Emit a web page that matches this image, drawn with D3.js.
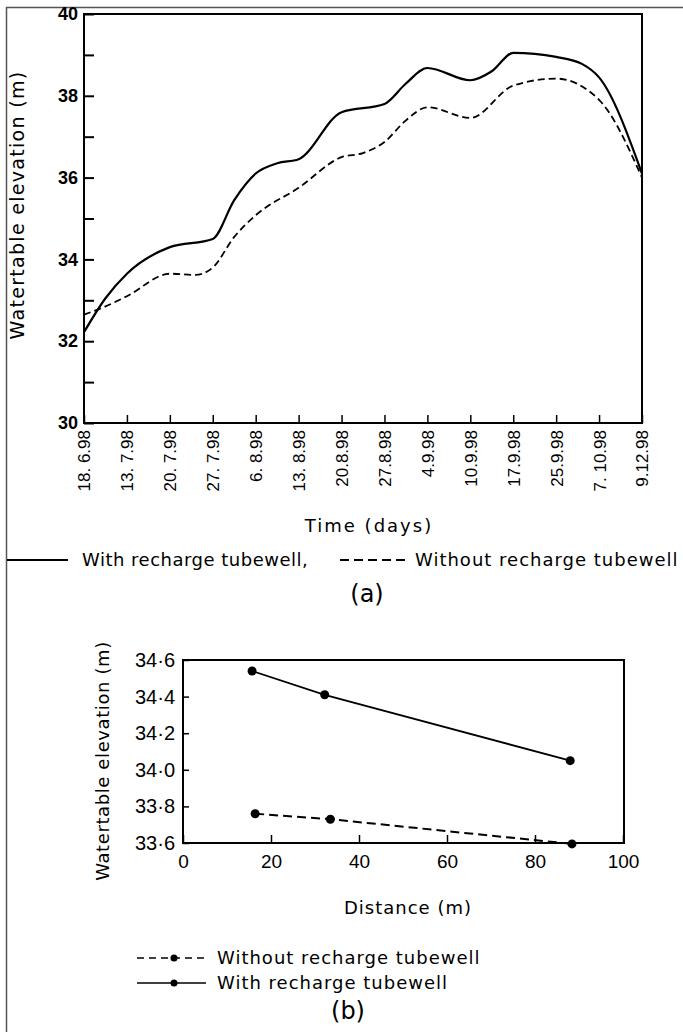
<!DOCTYPE html>
<html>
<head>
<meta charset="utf-8">
<script src="https://cdn.jsdelivr.net/npm/d3@7"></script>
<style>
  body { margin: 0; background: #fff; }
  svg { display: block; font-family: "DejaVu Sans", sans-serif; }
</style>
</head>
<body>
<svg id="chart" width="683" height="1032"></svg>
<script>
// (a) time series - x is position along the date axis (tick index)
const dateLabels = ["18. 6.98", "13. 7.98", "20. 7.98", "27. 7.98", "6. 8.98", "13. 8.98", "20.8.98",
  "27.8.98", "4.9.98", "10.9.98", "17.9.98", "25.9.98", "7. 10.98", "9.12.98"];
const withPos  = [0, 0.5, 1, 2, 3, 3.5, 4, 4.5, 5, 6, 7, 7.5, 8, 9, 9.5, 10, 11, 11.6, 12, 13];
const withVals = [32.22, 33.05, 33.65, 34.3, 34.5, 35.45, 36.1, 36.35, 36.45, 37.6, 37.8, 38.3, 38.68, 38.38, 38.6, 39.05, 38.95, 38.78, 38.45, 36.1];
const withoutPos  = [0, 0.5, 1, 2, 2.6, 3, 3.5, 4, 5, 6, 6.5, 7, 7.5, 8, 9, 10, 11, 12, 13];
const withoutVals = [32.65, 32.85, 33.1, 33.65, 33.62, 33.8, 34.55, 35.08, 35.75, 36.5, 36.6, 36.87, 37.4, 37.72, 37.46, 38.25, 38.42, 37.9, 36.0];
const yTicksA = d3.range(30, 41, 1);

// (b) distance profile
const distWith = [15.7, 32.2, 88];
const elevWith = [34.54, 34.41, 34.05];
const distWithout = [16.4, 33.5, 88.4];
const elevWithout = [33.76, 33.73, 33.595];
const xTicksB = [0, 20, 40, 60, 80, 100];
const yTicksB = [33.6, 33.8, 34.0, 34.2, 34.4, 34.6];

const svg = d3.select("svg#chart");

// outer border (page frame)
svg.append("line").attr("x1", 6.5).attr("x2", 6.5).attr("y1", 7).attr("y2", 1032)
  .attr("stroke", "#555").attr("stroke-width", 1.5);
svg.append("line").attr("x1", 6).attr("x2", 683).attr("y1", 7.5).attr("y2", 7.5)
  .attr("stroke", "#555").attr("stroke-width", 1.5);

// ---------- chart (a) ----------
const xA = d3.scaleLinear().domain([0, 13]).range([84, 642]);
const yA = d3.scaleLinear().domain([30, 40]).range([423, 14]);

const gA = svg.append("g");
gA.append("rect").attr("x", 84).attr("y", 14).attr("width", 642 - 84).attr("height", 423 - 14)
  .attr("fill", "none").attr("stroke", "#000").attr("stroke-width", 2);

const axisLeftA = gA.append("g").attr("transform", "translate(84,0)")
  .call(d3.axisLeft(yA).tickValues(yTicksA).tickSize(-10).tickPadding(6)
    .tickFormat(d => d % 2 === 0 ? d : ""));
axisLeftA.select(".domain").remove();
axisLeftA.selectAll("line").attr("stroke-width", 2);
axisLeftA.selectAll("text").attr("font-size", 18).attr("font-weight", "bold").attr("fill", "#000");

const axisBottomA = gA.append("g").attr("transform", "translate(0,423)")
  .call(d3.axisBottom(xA).tickValues(d3.range(dateLabels.length)).tickSize(-8)
    .tickFormat(i => dateLabels[i]));
axisBottomA.select(".domain").remove();
axisBottomA.selectAll("line").attr("stroke-width", 1.5);
axisBottomA.selectAll("text")
  .attr("transform", "rotate(-90)")
  .attr("x", -7).attr("y", 0).attr("dy", "0.35em")
  .style("text-anchor", "end")
  .attr("font-size", 17).attr("fill", "#000");

const lineA = d3.line().x(d => xA(d[0])).y(d => yA(d[1])).curve(d3.curveMonotoneX);
gA.append("path").datum(d3.zip(withPos, withVals)).attr("d", lineA)
  .attr("fill", "none").attr("stroke", "#000").attr("stroke-width", 2.2);
gA.append("path").datum(d3.zip(withoutPos, withoutVals)).attr("d", lineA)
  .attr("fill", "none").attr("stroke", "#000").attr("stroke-width", 1.8).attr("stroke-dasharray", "7,4");

gA.append("text").attr("transform", "translate(17,205) rotate(-90)")
  .attr("text-anchor", "middle").attr("dy", "0.35em")
  .attr("font-size", 19).attr("letter-spacing", 1.3).text("Watertable elevation (m)");

gA.append("text").attr("x", 369).attr("y", 526).attr("dy", "0.35em")
  .attr("text-anchor", "middle").attr("font-size", 18).attr("letter-spacing", 2).text("Time (days)");

// legend (a)
svg.append("line").attr("x1", 7).attr("x2", 68).attr("y1", 560).attr("y2", 560)
  .attr("stroke", "#000").attr("stroke-width", 1.8);
svg.append("text").attr("x", 82).attr("y", 560).attr("dy", "0.35em")
  .attr("font-size", 18).attr("letter-spacing", 0.5).text("With recharge tubewell,");
svg.append("line").attr("x1", 340).attr("x2", 407).attr("y1", 560).attr("y2", 560)
  .attr("stroke", "#000").attr("stroke-width", 1.8).attr("stroke-dasharray", "9,5");
svg.append("text").attr("x", 415).attr("y", 560).attr("dy", "0.35em")
  .attr("font-size", 18).attr("letter-spacing", 1).text("Without recharge tubewell");
svg.append("text").attr("x", 367).attr("y", 594).attr("dy", "0.35em")
  .attr("text-anchor", "middle").attr("font-size", 24).text("(a)");

// ---------- chart (b) ----------
const xB = d3.scaleLinear().domain([0, 100]).range([183, 623]);
const yB = d3.scaleLinear().domain([33.6, 34.6]).range([843, 660]);

const gB = svg.append("g");
gB.append("rect").attr("x", 183).attr("y", 660).attr("width", 624 - 183).attr("height", 843 - 660)
  .attr("fill", "none").attr("stroke", "#000").attr("stroke-width", 2);

const axisBottomB = gB.append("g").attr("transform", "translate(0,843)")
  .call(d3.axisBottom(xB).tickValues(xTicksB).tickSize(-8).tickPadding(18));
axisBottomB.select(".domain").remove();
axisBottomB.selectAll("line").attr("stroke-width", 1.5);
axisBottomB.selectAll("text").attr("font-size", 19).attr("fill", "#000").attr("dy", "0").attr("dominant-baseline", "central");

const axisLeftB = gB.append("g").attr("transform", "translate(183,0)")
  .call(d3.axisLeft(yB).tickValues(yTicksB).tickSize(-6).tickPadding(8)
    .tickFormat(d => d3.format(".1f")(d).replace(".", "·")));
axisLeftB.select(".domain").remove();
axisLeftB.selectAll("line").attr("stroke-width", 1.5);
axisLeftB.selectAll("text").attr("font-size", 20).attr("fill", "#000");

const lineB = d3.line().x(d => xB(d[0])).y(d => yB(d[1]));
const withB = d3.zip(distWith, elevWith);
const withoutB = d3.zip(distWithout, elevWithout);
gB.append("path").datum(withB).attr("d", lineB)
  .attr("fill", "none").attr("stroke", "#000").attr("stroke-width", 1.8);
gB.append("path").datum(withoutB).attr("d", lineB)
  .attr("fill", "none").attr("stroke", "#000").attr("stroke-width", 2).attr("stroke-dasharray", "9,5");
gB.selectAll("circle.pt").data(withB.concat(withoutB)).join("circle")
  .attr("class", "pt").attr("cx", d => xB(d[0])).attr("cy", d => yB(d[1])).attr("r", 4.5).attr("fill", "#000");

gB.append("text").attr("transform", "translate(103,761) rotate(-90)")
  .attr("text-anchor", "middle").attr("dy", "0.35em")
  .attr("font-size", 18).attr("letter-spacing", 0.6).text("Watertable elevation (m)");
gB.append("text").attr("x", 408).attr("y", 908).attr("dy", "0.35em")
  .attr("text-anchor", "middle").attr("font-size", 18).attr("letter-spacing", 1).text("Distance (m)");

// legend (b)
const legB = [
  {label: "Without recharge tubewell", dash: "7,5", y: 958},
  {label: "With recharge tubewell", dash: null, y: 983}
];
legB.forEach(l => {
  svg.append("line").attr("x1", 137).attr("x2", 206).attr("y1", l.y).attr("y2", l.y)
    .attr("stroke", "#000").attr("stroke-width", 1.6).attr("stroke-dasharray", l.dash);
  svg.append("circle").attr("cx", 174).attr("cy", l.y).attr("r", 3.5).attr("fill", "#000");
  svg.append("text").attr("x", 217).attr("y", l.y).attr("dy", "0.35em")
    .attr("font-size", 18).attr("letter-spacing", 1).text(l.label);
});
svg.append("text").attr("x", 348).attr("y", 1011).attr("dy", "0.35em")
  .attr("text-anchor", "middle").attr("font-size", 24).text("(b)");
</script>
</body>
</html>
